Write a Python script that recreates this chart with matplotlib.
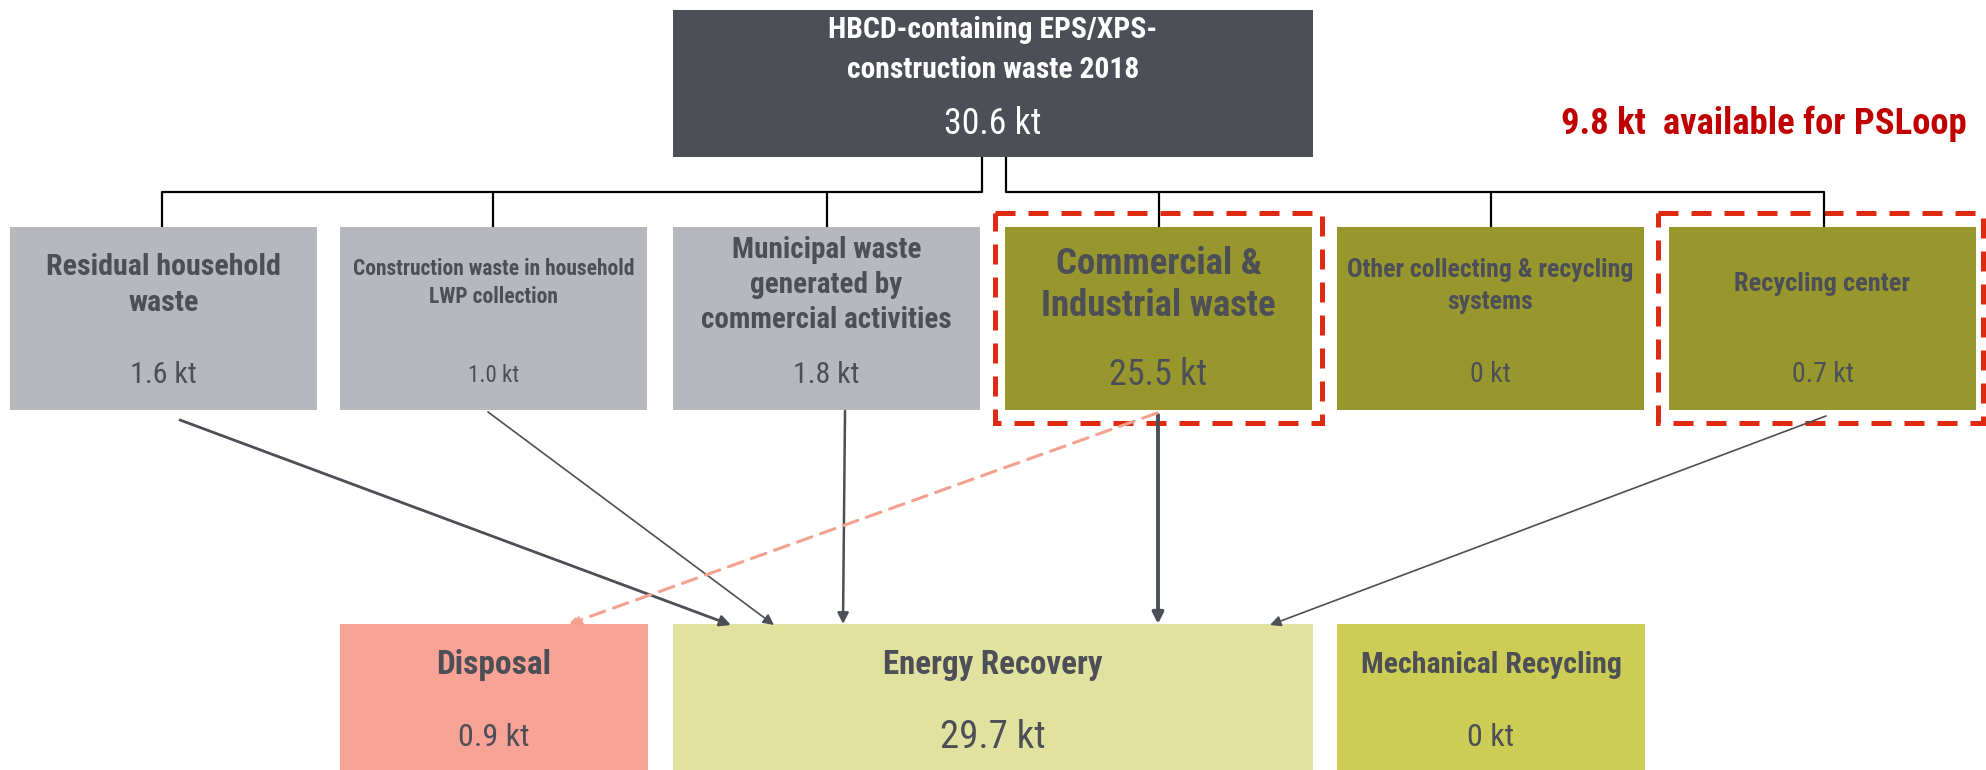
import matplotlib.pyplot as plt
from matplotlib.patches import Rectangle, FancyArrowPatch

# waste streams (kt)
total_label = "HBCD-containing EPS/XPS-\nconstruction waste 2018"
total_value = 30.6

source_labels = ["Residual household\nwaste",
                 "Construction waste in household\nLWP collection",
                 "Municipal waste\ngenerated by\ncommercial activities",
                 "Commercial &\nIndustrial waste",
                 "Other collecting & recycling\nsystems",
                 "Recycling center"]
source_values = [1.6, 1.0, 1.8, 25.5, 0, 0.7]

target_labels = ["Disposal", "Energy Recovery", "Mechanical Recycling"]
target_values = [0.9, 29.7, 0]

psloop_value = 9.8

# flows: (source, target)
flows = [(0, 1), (1, 1), (2, 1), (3, 1), (5, 1), (3, 0)]


def kt(v):
    return "0 kt" if v == 0 else f"{v:.1f} kt"


DARK = "#4d4f56"
GREY = "#b7b8bd"
OLIVE = "#97972e"
RED = "#dd2a10"

plt.rcParams['font.family'] = ['Roboto Condensed', 'DejaVu Sans']

fig = plt.figure(figsize=(19.86, 7.70), dpi=100)
ax = fig.add_axes([0, 0, 1, 1])
ax.set_xlim(0, 1986)
ax.set_ylim(770, 0)
ax.axis('off')

# top box
ax.add_patch(Rectangle((673, 10), 640, 147, color=DARK, lw=0))
ax.text(993, 50, total_label, ha='center', va='center', color='white',
        fontsize=21.3, fontweight='bold', linespacing=1.5)
ax.text(993, 124, kt(total_value), ha='center', va='center', color='white', fontsize=25.8)

# source boxes
src_x = [10, 340, 673, 1005, 1337, 1669]
src_w = 307
src_top, src_bot = 227, 410
src_col = [GREY, GREY, GREY, OLIVE, OLIVE, OLIVE]
lab_fs = [21.6, 15.5, 21, 26.5, 18.5, 19]
val_fs = [21.6, 16.6, 21.5, 26, 20, 20]
lab_ls = [1.35, 1.3, 1.3, 1.25, 1.4, 1.2]
lab_y = [285, 283, 285, 285, 286, 284]
for i in range(6):
    ax.add_patch(Rectangle((src_x[i], src_top), src_w, src_bot - src_top, color=src_col[i], lw=0))
    cx = src_x[i] + src_w / 2
    ax.text(cx, lab_y[i], source_labels[i], ha='center', va='center', color=DARK,
            fontsize=lab_fs[i], fontweight='bold', linespacing=lab_ls[i])
    ax.text(cx, 375, kt(source_values[i]), ha='center', va='center', color=DARK, fontsize=val_fs[i])

# tree connectors
conn = dict(color='black', lw=1.6, solid_capstyle='butt')
ax.plot([982, 982, 162, 162], [157, 192, 192, src_top], **conn)
ax.plot([493, 493], [192, src_top], **conn)
ax.plot([827, 827], [192, src_top], **conn)
ax.plot([1006, 1006, 1824, 1824], [157, 192, 192, src_top], **conn)
ax.plot([1159, 1159], [192, src_top], **conn)
ax.plot([1491, 1491], [192, src_top], **conn)

# PSLoop frames
for x0, x1 in [(995, 1322), (1658, 1983)]:
    ax.add_patch(Rectangle((x0, 213), x1 - x0, 210, fill=False, ec=RED, lw=3.6,
                           ls=(0, (4, 2.6))))
ax.text(1764, 124, f"{psloop_value:.1f} kt  available for PSLoop", ha='center', va='center',
        color='#c00000', fontsize=26.4, fontweight='bold')

# target boxes
tgt_x = [340, 673, 1337]
tgt_w = [308, 640, 308]
tgt_col = ["#f9a296", "#e2e2a0", "#cdcd55"]
tgt_lfs = [24, 23.7, 21.5]
tgt_vfs = [23, 28, 23]
for i in range(3):
    ax.add_patch(Rectangle((tgt_x[i], 624), tgt_w[i], 146, color=tgt_col[i], lw=0))
    cx = tgt_x[i] + tgt_w[i] / 2
    ax.text(cx, 665, target_labels[i], ha='center', va='center', color=DARK,
            fontsize=tgt_lfs[i], fontweight='bold')
    ax.text(cx, 737, kt(target_values[i]), ha='center', va='center', color=DARK, fontsize=tgt_vfs[i])

# flow arrows
starts = {(0, 1): (180, 420), (1, 1): (488, 412), (2, 1): (845, 411),
          (3, 1): (1158, 415), (5, 1): (1826, 416), (3, 0): (1157, 413)}
ends = {(0, 1): (731, 625), (1, 1): (774, 625), (2, 1): (843, 624),
        (3, 1): (1158, 624), (5, 1): (1270, 625), (3, 0): (569, 624)}
widths = {(0, 1): 2.0, (1, 1): 1.2, (2, 1): 1.8, (3, 1): 2.8, (5, 1): 1.2, (3, 0): 2.2}
for f in flows:
    dashed = f == (3, 0)
    ax.add_patch(FancyArrowPatch(starts[f], ends[f], arrowstyle='-|>', mutation_scale=16,
                                 color='#f4a190' if dashed else DARK, lw=widths[f],
                                 ls=(0, (5, 3)) if dashed else '-',
                                 shrinkA=0, shrinkB=0))

fig.savefig('out.png', dpi=100)
